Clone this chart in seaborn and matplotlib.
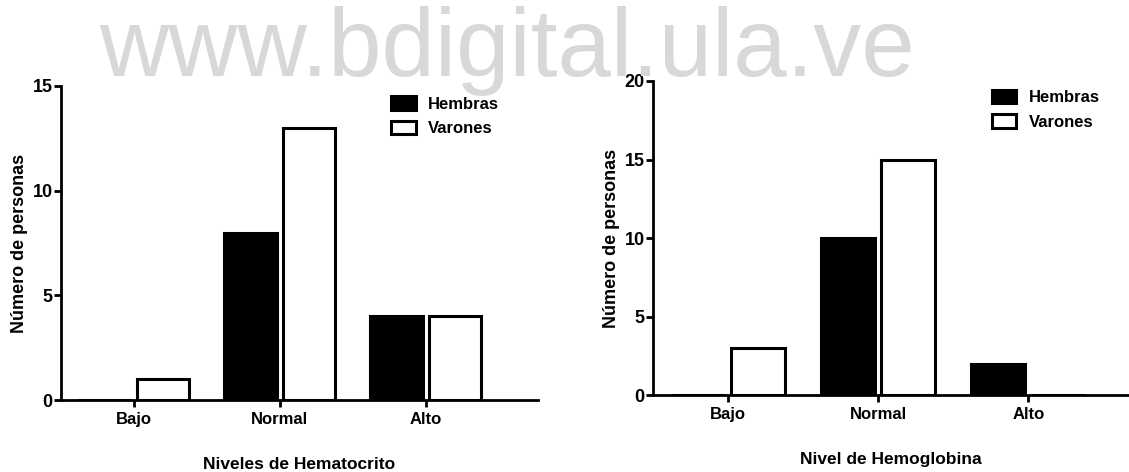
import matplotlib
matplotlib.use("Agg")
import matplotlib.pyplot as plt
import seaborn as sns
import pandas as pd

niveles = ["Bajo", "Normal", "Alto"]
grupos = ["Hembras", "Varones"]

hto_hembras = [0, 8, 4]
hto_varones = [1, 13, 4]
hb_hembras = [0, 10, 2]
hb_varones = [3, 15, 0]

sns.set_style("white")
plt.rcParams["font.family"] = ["Liberation Sans", "DejaVu Sans"]
plt.rcParams["font.weight"] = "bold"
plt.rcParams["text.color"] = "black"
plt.rcParams["axes.labelcolor"] = "black"


def tabla(hembras, varones):
    return pd.DataFrame({
        "nivel": niveles * 2,
        "grupo": [grupos[0]] * 3 + [grupos[1]] * 3,
        "n": hembras + varones,
    })


fig = plt.figure(figsize=(11.29, 4.72), dpi=100)
ax1 = fig.add_axes([0.054, 0.1525, 0.4225, 0.6653])
ax2 = fig.add_axes([0.5784, 0.1631, 0.4216, 0.6653])

paneles = [
    (ax1, tabla(hto_hembras, hto_varones), 15, [0, 5, 10, 15], "Niveles de Hematocrito", 2.77, (0.95, 1.015)),
    (ax2, tabla(hb_hembras, hb_varones), 20, [0, 5, 10, 15, 20], "Nivel de Hemoglobina", 2.67, (0.97, 1.02)),
]

for ax, df, ymax, yticks, xlab, xmax, anchor in paneles:
    sns.barplot(data=df, x="nivel", y="n", hue="grupo", order=niveles,
                hue_order=grupos, palette=["black", "white"], width=0.8, gap=0.1,
                edgecolor="black", linewidth=2.2, ax=ax)
    ax.set_ylim(0, ymax)
    ax.set_xlim(-0.5, xmax)
    ax.set_yticks(yticks)
    ax.set_ylabel("Número de personas", fontsize=13, fontweight="bold", labelpad=3)
    ax.set_xlabel(xlab, fontsize=12.5, fontweight="bold", labelpad=22)
    sns.despine(ax=ax)
    for s in ["left", "bottom"]:
        ax.spines[s].set_linewidth(2)
        ax.spines[s].set_color("black")
    ax.tick_params(axis="both", direction="out", length=5, width=2, colors="black",
                   labelsize=12, left=True, bottom=True)
    ax.tick_params(axis="y", labelsize=13, pad=1)
    for lab in ax.get_xticklabels() + ax.get_yticklabels():
        lab.set_fontweight("bold")
    leg = ax.legend(loc="upper right", bbox_to_anchor=anchor, frameon=False,
                    fontsize=12, handlelength=1.45, handleheight=0.85,
                    handletextpad=0.75, labelspacing=0.55)
    for t in leg.get_texts():
        t.set_fontweight("bold")

fig.text(0.449, 0.893, "www.bdigital.ula.ve", fontsize=69, color="#d8d8d8",
         ha="center", va="center", fontweight="normal", zorder=0)

fig.savefig("out.png", dpi=100)
